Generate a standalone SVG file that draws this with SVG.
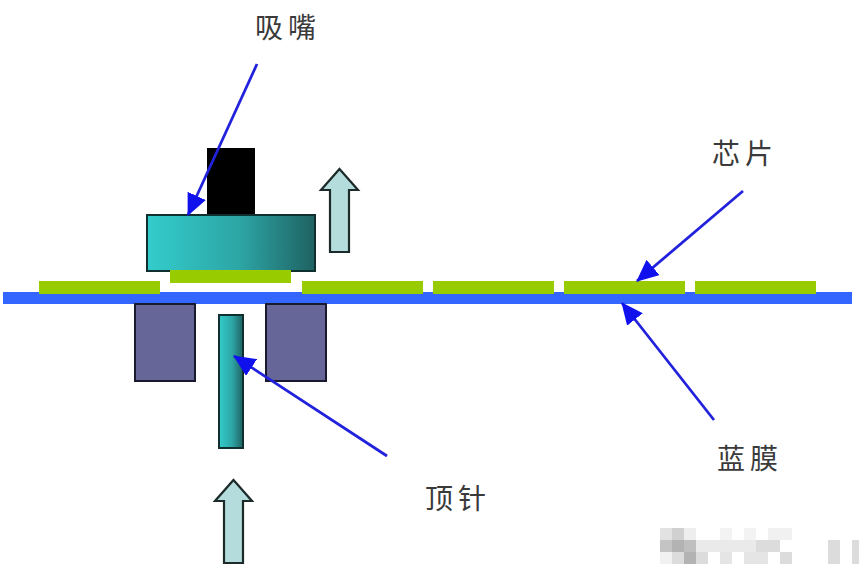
<svg xmlns="http://www.w3.org/2000/svg" width="859" height="571" viewBox="0 0 859 571">
<style>
.chip{fill:#99cc00}
.film{fill:#3366ff}
.block{fill:#666699;stroke:#1a1a2e;stroke-width:2}
.up{fill:#b5dcdc;stroke:#1c2a2a;stroke-width:2.2;stroke-linejoin:miter}
.label{font-family:"Noto Sans CJK SC","Liberation Serif",serif;font-size:28px;fill:#3a3a3a;letter-spacing:5px}
.lead{stroke:#2222dd;stroke-width:2.8;fill:none;marker-end:url(#head)}
.smudge{fill:#8a8a8a}
</style>
<defs>
<linearGradient id="tealH" x1="0" y1="0" x2="1" y2="0">
<stop offset="0" stop-color="#33cccc"/>
<stop offset="0.55" stop-color="#2da5a5"/>
<stop offset="1" stop-color="#1f6262"/>
</linearGradient>
<marker id="head" markerUnits="userSpaceOnUse" markerWidth="22" markerHeight="20" refX="21" refY="10" orient="auto">
<path d="M0 0L22 10L0 20Z" fill="#1111ee"/>
</marker>
</defs>
<rect width="859" height="571" fill="#ffffff"/>
<g id="film"><rect class="film" x="3" y="292" width="849" height="12"/></g>
<g id="chips">
<rect class="chip" x="39" y="281" width="121" height="13"/>
<rect class="chip" x="302" y="281" width="121" height="13"/>
<rect class="chip" x="433" y="281" width="121" height="13"/>
<rect class="chip" x="564" y="281" width="121" height="13"/>
<rect class="chip" x="695" y="281" width="121" height="13"/>
</g>
<g id="nozzle">
<rect x="207" y="148" width="48" height="68" fill="#000000"/>
<rect x="147" y="215" width="168" height="56" fill="url(#tealH)" stroke="#10302f" stroke-width="2"/>
<rect class="chip" x="170" y="270" width="121" height="13"/>
</g>
<g id="blocks">
<rect class="block" x="135" y="304" width="60" height="77"/>
<rect class="block" x="266" y="304" width="60" height="77"/>
</g>
<g id="pin"><rect x="219" y="315" width="24" height="133" fill="url(#tealH)" stroke="#10302f" stroke-width="2"/></g>
<g id="arrow-up-top"><path class="up" d="M339.500 169L358 190H349V252H330V190H321Z"/></g>
<g id="arrow-up-bottom"><path class="up" d="M233.500 480L252 501H243V563H224V501H215Z"/></g>
<g id="connectors">
<line class="lead" x1="257" y1="64" x2="188" y2="215"/>
<line class="lead" x1="743" y1="191" x2="637" y2="281"/>
<line class="lead" x1="714" y1="420" x2="622" y2="303"/>
<line class="lead" x1="387" y1="456" x2="234" y2="356"/>
</g>
<g id="labels">
<text class="label" x="255" y="38">吸嘴</text>
<text class="label" x="712" y="164">芯片</text>
<text class="label" x="717" y="469">蓝膜</text>
<text class="label" x="425" y="509">顶针</text>
</g>
<g id="watermark" class="smudge">
<rect x="660" y="528" width="12" height="12" opacity="0.25"/>
<rect x="672" y="528" width="12" height="12" opacity="0.4"/>
<rect x="684" y="528" width="12" height="12" opacity="0.15"/>
<rect x="660" y="540" width="12" height="12" opacity="0.5"/>
<rect x="672" y="540" width="12" height="12" opacity="0.65"/>
<rect x="684" y="540" width="12" height="12" opacity="0.55"/>
<rect x="696" y="540" width="60" height="12" opacity="0.18"/>
<rect x="756" y="540" width="24" height="12" opacity="0.3"/>
<rect x="660" y="552" width="12" height="12" opacity="0.12"/>
<rect x="672" y="552" width="12" height="12" opacity="0.3"/>
<rect x="684" y="552" width="12" height="12" opacity="0.65"/>
<rect x="696" y="552" width="12" height="12" opacity="0.3"/>
<rect x="720" y="552" width="12" height="12" opacity="0.22"/>
<rect x="744" y="552" width="24" height="12" opacity="0.22"/>
<rect x="780" y="552" width="12" height="12" opacity="0.3"/>
<rect x="720" y="528" width="12" height="12" opacity="0.1"/>
<rect x="744" y="528" width="12" height="12" opacity="0.1"/>
<rect x="768" y="528" width="24" height="12" opacity="0.12"/>
<rect x="828" y="540" width="12" height="24" opacity="0.3"/>
<rect x="852" y="540" width="7" height="24" opacity="0.3"/>
</g>
</svg>
